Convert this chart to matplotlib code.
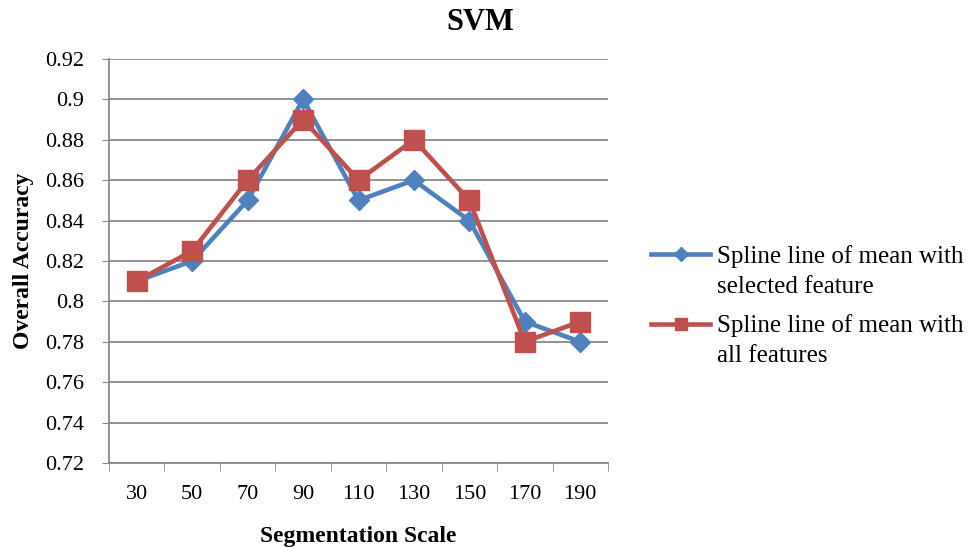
import matplotlib
matplotlib.use("Agg")
import matplotlib.pyplot as plt
from matplotlib.legend_handler import HandlerLine2D
import numpy as np

scales = ["30", "50", "70", "90", "110", "130", "150", "170", "190"]
selected_feature = [0.81, 0.82, 0.85, 0.90, 0.85, 0.86, 0.84, 0.79, 0.78]
all_features = [0.81, 0.825, 0.86, 0.89, 0.86, 0.88, 0.85, 0.78, 0.79]
y_ticks = [0.72, 0.74, 0.76, 0.78, 0.8, 0.82, 0.84, 0.86, 0.88, 0.9, 0.92]


class TopLineHandler(HandlerLine2D):
    """Put the legend key next to the first line of a two-line label (Excel style)."""
    def create_artists(self, legend, orig_handle, xdescent, ydescent, width, height, fontsize, trans):
        artists = super().create_artists(legend, orig_handle, xdescent, ydescent,
                                         width, height, fontsize, trans)
        for a in artists:
            a.set_ydata(np.asarray(a.get_ydata()) + 12)
        return artists


plt.rcParams['font.family'] = ['Liberation Serif', 'DejaVu Serif']

fig = plt.figure(figsize=(9.79, 5.47), dpi=100)
ax = fig.add_axes([109 / 979, 1 - 463 / 547, (608 - 109) / 979, (463 - 59) / 547])

x = np.arange(len(scales))
grid_col = '#898989'

ax.plot(x, selected_feature, color='#4F81BD', lw=3.3, marker='D', ms=10.5,
        label='Spline line of mean with\nselected feature', zorder=3)
ax.plot(x, all_features, color='#C0504D', lw=3.3, marker='s', ms=14,
        label='Spline line of mean with\nall features', zorder=4)

ax.set_xlim(-0.5, len(scales) - 0.5)
ax.set_ylim(0.72, 0.92)
ax.set_yticks(y_ticks)
ax.set_yticklabels([f"{v:g}" for v in y_ticks])
ax.set_xticks(x)
ax.set_xticklabels(scales)
ax.set_xticks(np.arange(-0.5, len(scales)), minor=True)
ax.tick_params(axis='x', which='major', length=0, pad=16, labelsize=16)
ax.tick_params(axis='x', which='minor', length=6, color=grid_col, direction='out')
ax.tick_params(axis='y', length=5, color=grid_col, labelsize=16, pad=13)

ax.yaxis.grid(True, color=grid_col, lw=1.3)
ax.set_axisbelow(True)
for side in ['top', 'right']:
    ax.spines[side].set_visible(False)
for side in ['left', 'bottom']:
    ax.spines[side].set_color(grid_col)
    ax.spines[side].set_linewidth(1.3)

fig.text(480 / 979, 1 - 22 / 547, 'SVM', fontsize=22, fontweight='bold',
         ha='center', va='center')
ax.set_xlabel('Segmentation Scale', fontsize=17, fontweight='bold')
ax.xaxis.set_label_coords(0.5, (463 - 526) / 404)
ax.set_ylabel('Overall Accuracy', fontsize=17, fontweight='bold')
ax.yaxis.set_label_coords((34 - 109) / 499, 0.5)

leg = fig.legend(loc='center left', bbox_to_anchor=(629 / 979, 1 - 306 / 547),
                 frameon=False, fontsize=18, handlelength=2.35, handletextpad=0.28,
                 labelspacing=0.67, markerscale=0.65,
                 handler_map={plt.Line2D: TopLineHandler()})
for t in leg.get_texts():
    t.set_linespacing(1.45)

fig.savefig('out.png', dpi=100)
